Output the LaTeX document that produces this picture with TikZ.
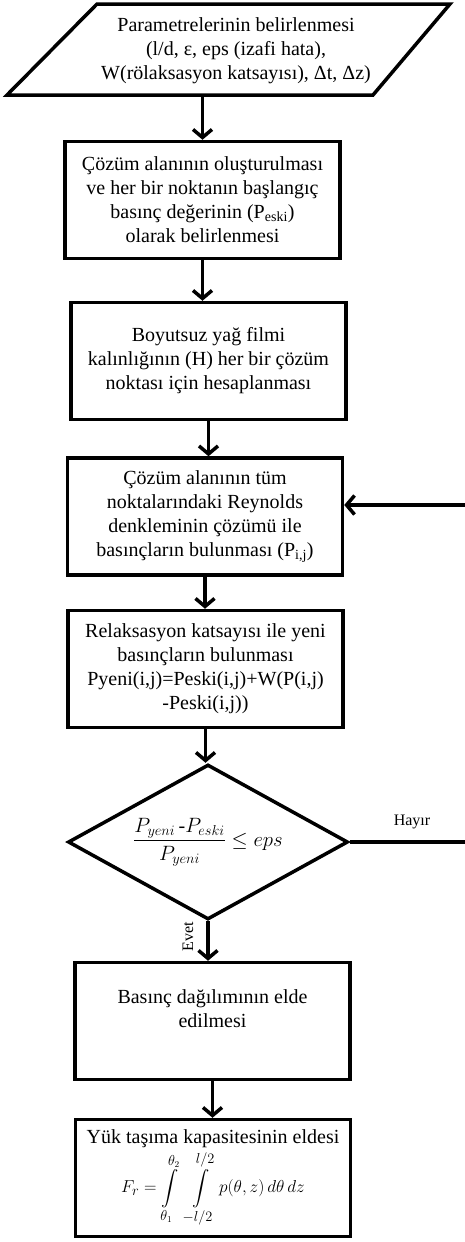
\documentclass[tikz,border=0pt]{standalone}
\usepackage{amsmath}
\usepackage{fontspec}
\setmainfont{Liberation Serif}
\usetikzlibrary{arrows.meta, positioning, shapes.geometric}

\begin{document}
\begin{tikzpicture}[x=1pt, y=-1pt,
    box/.style={draw, line width=3.5pt, align=center, inner sep=2pt,
        minimum width=275pt, minimum height=117pt,
        font=\fontsize{20}{24}\selectfont},
    flow/.style={line width=3.5pt, -{Straight Barb[length=8pt, width=19pt]}},
    tag/.style={font=\fontsize{16}{18}\selectfont}]
    \useasboundingbox (0,0) rectangle (464,1242);

    % Girdi (paralelkenar)
    \draw[line width=3.5pt, line join=miter] (97,4) -- (450,4) -- (373,95) -- (7,95) -- cycle;
    \node[align=center, minimum height=91pt, font=\fontsize{20}{24}\selectfont] (param) at (236,51)
        {Parametrelerinin belirlenmesi\\(l/d, ε, eps (izafi hata),\\W(rölaksasyon katsayısı), Δt, Δz)};

    % Kutular
    \node[box] (init) at (202.5,200) {Çözüm alanının oluşturulması\\ve her bir noktanın başlangıç\\basınç değerinin (P\textsubscript{eski})\\olarak belirlenmesi};
    \node[box] (film) at (208.5,361) {Boyutsuz yağ filmi\\kalınlığının (H) her bir çözüm\\noktası için hesaplanması};
    \node[box] (reyn) at (205,516.5) {Çözüm alanının tüm\\noktalarındaki Reynolds\\denkleminin çözümü ile\\basınçların bulunması (P\textsubscript{i,j})};
    \node[box] (relax) at (205.5,669) {Relaksasyon katsayısı ile yeni\\basınçların bulunması\\Pyeni(i,j)=Peski(i,j)+W(P(i,j)\\-Peski(i,j))};

    % Karar
    \node[draw, diamond, line width=3.5pt, inner sep=0pt, minimum width=280pt, minimum height=155pt] (dec) at (208,842) {};
    \node[font=\fontsize{20}{24}\selectfont] (cond) at (dec.center)
        {$\dfrac{P_{yeni}\,\text{-}P_{eski}}{P_{yeni}}\leq eps$};

    \node[box] (dist) at (212.5,1021) {Basınç dağılımının elde\\edilmesi\\~};
    \node[box] (load) at (213,1178) {Yük taşıma kapasitesinin eldesi\\[3pt]
        {\fontsize{19}{22}\selectfont$\displaystyle F_r=\int\limits_{\theta_1}^{\theta_2}\;\int\limits_{-l/2}^{l/2} p(\theta,z)\,d\theta\, dz$}};

    % Oklar
    \draw[flow] (param.south -| init.north) -- (init.north);
    \draw[flow] (init.south) -- (init.south |- film.north);
    \draw[flow] (film.south) -- (film.south |- reyn.north);
    \draw[flow] (reyn.south) -- (reyn.south |- relax.north);
    \draw[flow] (relax.south) -- (relax.south |- dec.north);
    \draw[flow] (dec.south) -- (dec.south |- dist.north);
    \draw[flow] (dist.south) -- (dist.south |- load.north);

    % Geri donus
    \coordinate (back) at (467,505);
    \draw[flow] (dec.east) -- (dec.east -| back) -- (back) -- (back -| reyn.east);
    \node[tag] (no) at (412,822) {Hayır};
    \node[tag, rotate=90] (yes) at (188,937) {Evet};
\end{tikzpicture}
\end{document}
